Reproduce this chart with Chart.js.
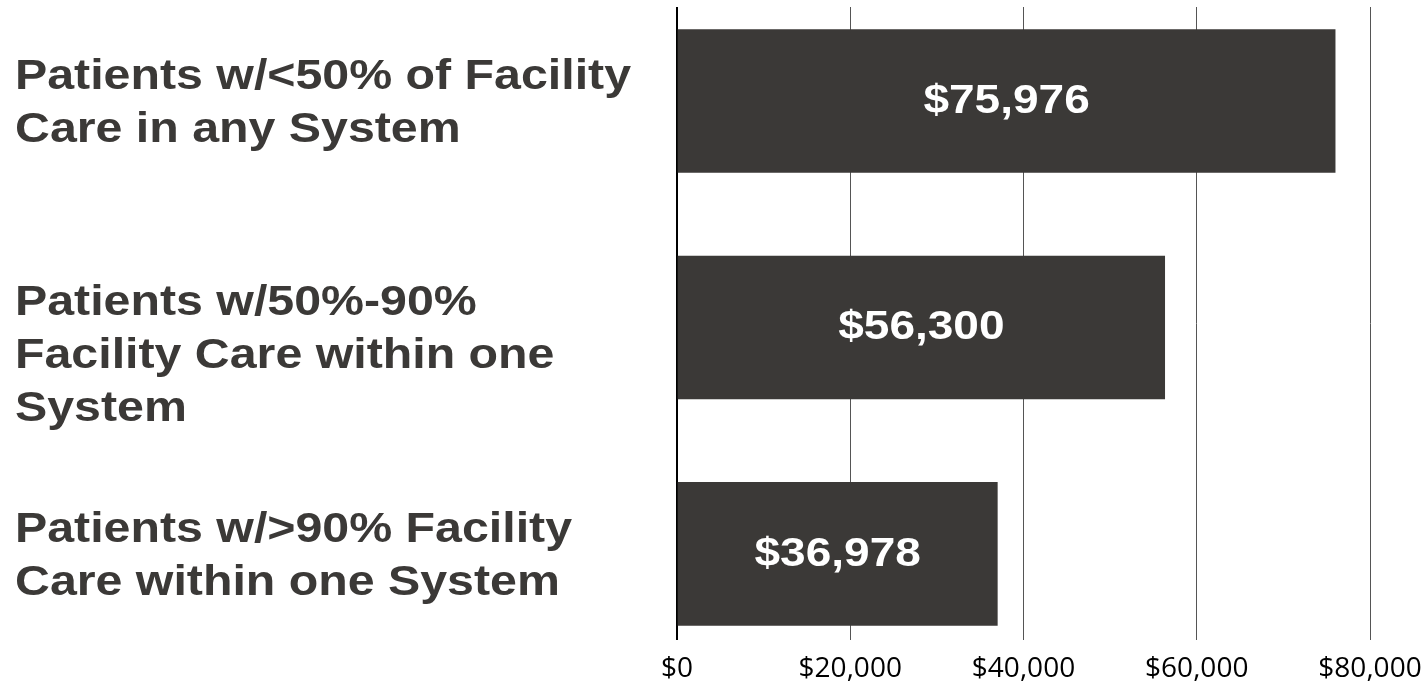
<!DOCTYPE html>
<html>
<head>
<meta charset="utf-8">
<script src="https://cdn.jsdelivr.net/npm/chart.js@4/dist/chart.umd.min.js"></script>
<style>
  html, body { margin: 0; padding: 0; background: #fff; }
  #wrap { width: 1422px; height: 686px; }
</style>
</head>
<body>
<div id="wrap"><canvas id="costs" width="1422" height="686"></canvas></div>
<script>
var categories = [
  ["Patients w/<50% of Facility", "Care in any System"],
  ["Patients w/50%-90%", "Facility Care within one", "System"],
  ["Patients w/>90% Facility", "Care within one System"],
];
var costs = [75976, 56300, 36978];
var xTickValues = [0, 20000, 40000, 60000, 80000];

var dark = "#3b3937";
var stretch = 1.15; // source text is a bit wider than Arial

function money(v) {
  return "$" + v.toLocaleString("en-US");
}

function wideText(ctx, text, x, y) {
  ctx.save();
  ctx.translate(x, y);
  ctx.scale(stretch, 1);
  ctx.fillText(text, 0, 0);
  ctx.restore();
}

// category names on the left and values inside the bars
var labelPlugin = {
  id: "labels",
  afterDatasetsDraw: function (chart) {
    var ctx = chart.ctx;
    var yScale = chart.scales.y;
    var bars = chart.getDatasetMeta(0).data;
    ctx.save();
    ctx.textBaseline = "middle";

    ctx.fillStyle = dark;
    ctx.textAlign = "left";
    ctx.font = "bold 42px 'Liberation Sans', Arial, sans-serif";
    categories.forEach(function (lines, i) {
      var top = yScale.getPixelForValue(i) - 24;
      lines.forEach(function (line, k) {
        wideText(ctx, line, 15, top + k * 53);
      });
    });

    ctx.fillStyle = "#fff";
    ctx.textAlign = "center";
    ctx.font = "bold 40px 'Liberation Sans', Arial, sans-serif";
    bars.forEach(function (bar, i) {
      wideText(ctx, money(costs[i]), (bar.base + bar.x) / 2, bar.y + 1);
    });
    ctx.restore();
  },
};

new Chart(document.getElementById("costs"), {
  type: "bar",
  data: {
    datasets: [
      {
        data: costs.map(function (v, i) {
          return { x: v, y: i };
        }),
        backgroundColor: dark,
        borderWidth: 0,
        barThickness: 143,
      },
    ],
  },
  options: {
    indexAxis: "y",
    responsive: false,
    animation: false,
    layout: { padding: { left: 677, right: 52, top: 7, bottom: 0 } },
    plugins: { legend: { display: false }, tooltip: { enabled: false } },
    scales: {
      y: {
        type: "linear",
        display: false,
        offset: false,
        reverse: true,
        min: -0.415,
        max: 2.38,
      },
      x: {
        min: 0,
        max: 80000,
        afterBuildTicks: function (scale) {
          scale.ticks = xTickValues.map(function (v) {
            return { value: v };
          });
        },
        afterFit: function (scale) {
          scale.height = 46;
          scale.paddingLeft = 0;
          scale.paddingRight = 0;
        },
        border: { display: false },
        grid: {
          drawTicks: false,
          color: function (c) {
            return c.tick && c.tick.value === 0 ? "#000" : "#555";
          },
          lineWidth: function (c) {
            return c.tick && c.tick.value === 0 ? 2 : 1;
          },
        },
        ticks: {
          padding: 12,
          color: "#000",
          font: { family: "'Open Sans', sans-serif", size: 28 },
          maxRotation: 0,
          callback: function (v) {
            return money(v);
          },
        },
      },
    },
  },
  plugins: [labelPlugin],
});
</script>
</body>
</html>
